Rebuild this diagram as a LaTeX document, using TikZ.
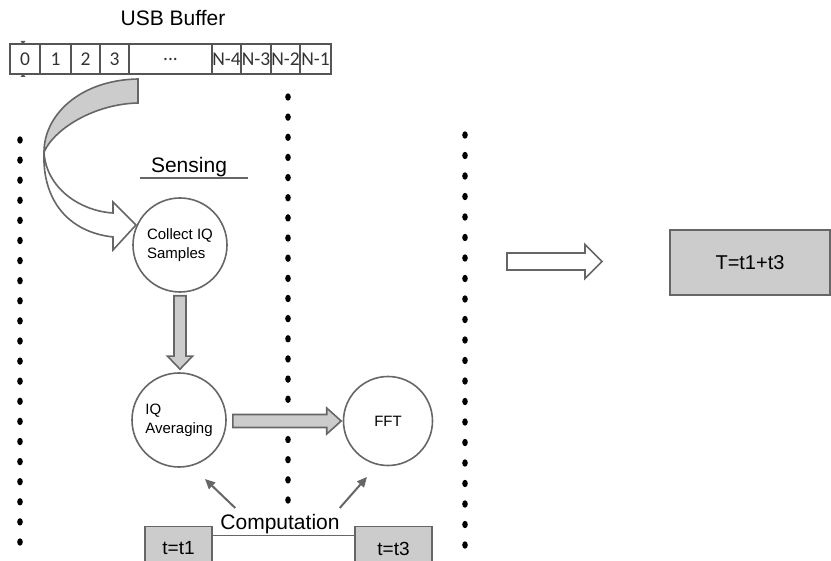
\documentclass[tikz,border=0pt]{standalone}
\usepackage{fontspec}
\setmainfont{Liberation Sans}
\newfontfamily\cellfont{Carlito}
\usepackage{tikz}
\tikzset{>=latex}
\usetikzlibrary{calc, arrows.meta}
\definecolor{linegray}{HTML}{666666}
\definecolor{boxgray}{HTML}{CCCCCC}
\definecolor{cellgray}{HTML}{555555}
\tikzset{
  stage/.style={circle, draw=linegray, line width=1.6pt, minimum size=94pt, inner sep=0pt, align=left, font=\fontsize{15}{19}\selectfont},
  timebox/.style={rectangle, draw=linegray, fill=boxgray, line width=1.6pt, minimum height=44pt, inner sep=0pt, font=\fontsize{19}{22}\selectfont},
  blockarrow/.style={draw=linegray, fill=boxgray, line width=1.6pt, line join=miter},
  hollowarrow/.style={draw=linegray, fill=white, line width=1.6pt, line join=miter},
  thinarrow/.style={draw=linegray, line width=2pt, -{Triangle[length=10pt,width=9pt]}},
  bigtext/.style={font=\fontsize{21}{25}\selectfont, inner sep=1pt}
}
\def\dotrx{2.8}
\def\dotry{3.7}

\begin{document}
\begin{tikzpicture}[x=1pt, y=-1pt]
\useasboundingbox (0,0) rectangle (831,561);
\clip (0,0) rectangle (831,561);

% USB buffer
\node[bigtext] (usb) at (173,18) {USB Buffer};
\fill[cellgray] (20.5,41) -- (25.5,41) -- (23,44.5) -- cycle;
\fill[cellgray] (20.5,77) -- (25.5,77) -- (23,73.5) -- cycle;
\draw[cellgray, line width=1.2pt, fill=white] (10,44) rectangle (331,74);
\foreach \xa/\xb/\lbl [count=\i] in {10/40/0, 40/71/1, 71/100/2, 100/129/3, 129/212/{...}, 212/241/N-4, 241/271/N-3, 271/300/N-2, 300/331/N-1}{
  \draw[cellgray, line width=1.2pt] (\xa,44) rectangle (\xb,74);
  \node[font=\cellfont\fontsize{19.5}{22}\selectfont, inner sep=0pt, text=black!80] (cell\i) at ({(\xa+\xb)/2},59) {\lbl};
}

% dotted separators
\foreach \i in {0,...,20}{
  \fill (20,140+20.1*\i) ellipse [x radius=\dotrx, y radius=\dotry];
  \fill (288,97+20.15*\i) ellipse [x radius=\dotrx, y radius=\dotry];
  \fill (465,135+20.5*\i) ellipse [x radius=\dotrx, y radius=\dotry];
}

% curved arrow from the buffer
\draw[blockarrow] (138,79) .. controls (80,80) and (44,115) .. (44,152) .. controls (55,128) and (95,104) .. (138,103) -- cycle;
\draw[hollowarrow] (44,152) .. controls (46,188) and (80,211) .. (113,213) -- (113,202) -- (136,225) -- (113,250) -- (113,237) .. controls (68,232) and (42,200) .. (44,152) -- cycle;

% Sensing
\node[bigtext] (sensing) at (189,167) {Sensing};
\draw[linegray, line width=1.5pt] ($(sensing.south west)+(-10,0)$) -- ($(sensing.south east)+(20,0)$);

% stages
\node[stage] (collect) at (180,245) {Collect IQ\\Samples};
\node[stage] (avg) at (179,420) {IQ\\Averaging};
\node[stage, minimum size=89pt] (fft) at (388,421) {FFT};

\draw[blockarrow] ($(collect.south)+(-6,3)$) -- ($(collect.south |- avg.north)+(-6,-16)$) -- ($(collect.south |- avg.north)+(-12.5,-16)$) -- ($(collect.south |- avg.north)+(0,-3)$) -- ($(collect.south |- avg.north)+(12.5,-16)$) -- ($(collect.south |- avg.north)+(6,-16)$) -- ($(collect.south)+(6,3)$) -- cycle;
\draw[blockarrow] ($(avg.east |- fft.west)+(6,-6.5)$) -- ($(fft.west)+(-16,-6.5)$) -- ($(fft.west)+(-16,-13)$) -- ($(fft.west)+(-1.5,0)$) -- ($(fft.west)+(-16,13)$) -- ($(fft.west)+(-16,6.5)$) -- ($(avg.east |- fft.west)+(6,6.5)$) -- cycle;

% Computation
\node[bigtext] (comp) at (280,524) {Computation};
\draw[thinarrow] ($(comp.north west)+(16,-5)$) -- ($(avg.center)+(26,59)$);
\draw[thinarrow] ($(comp.north east)+(-1,-5)$) -- ($(fft.center)+(-21,56)$);

\node[timebox, minimum width=67pt] (t1) at (178.5,548.5) {t=t1};
\node[timebox, minimum width=77pt] (t3) at (393.5,548.5) {t=t3};
\draw[linegray, line width=1.5pt] ($(t1.north east)+(0,10)$) -- ($(t3.north west)+(0,10)$);

% result
\coordinate (hstart) at (507,261.5);
\coordinate (htip) at (602,261.5);
\draw[hollowarrow] ($(hstart)+(0,-8.5)$) -- ($(htip)+(-17,-8.5)$) -- ($(htip)+(-17,-17)$) -- (htip) -- ($(htip)+(-17,17)$) -- ($(htip)+(-17,8.5)$) -- ($(hstart)+(0,8.5)$) -- cycle;
\node[timebox, minimum width=160pt, minimum height=65pt, font=\fontsize{20}{24}\selectfont] (total) at (750,262.5) {T=t1+t3};

\end{tikzpicture}
\end{document}
